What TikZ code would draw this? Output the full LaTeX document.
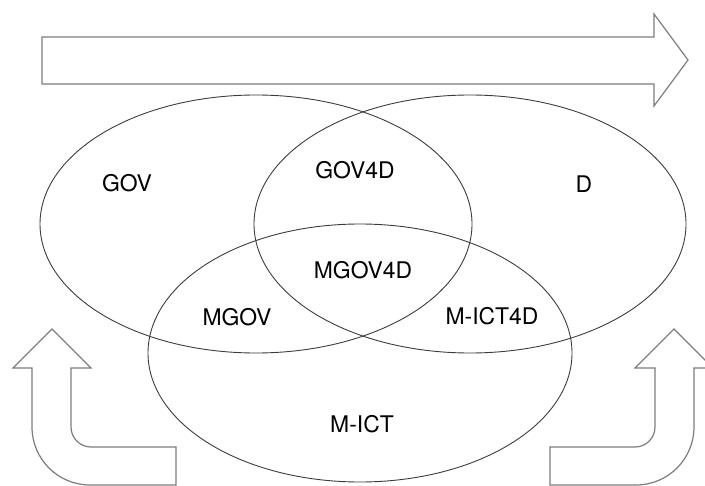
\documentclass[tikz,border=0pt]{standalone}
\usepackage{fontspec}
\setmainfont{TeX Gyre Heros}
\usetikzlibrary{math}
\definecolor{ringgray}{RGB}{60,60,60}
\definecolor{arrowgray}{RGB}{125,125,125}

\begin{document}
\begin{tikzpicture}[x=1bp,y=-1bp,
  ring/.style={color=ringgray,line width=0.9bp},
  bigarrow/.style={color=arrowgray,line width=1.2bp,line join=miter},
  lbl/.style={font=\fontsize{23}{27}\selectfont,inner sep=0pt}]
\tikzmath{
\rx=216;
\ry=129;
}
\useasboundingbox (0,0) rectangle (705,486);

%top arrow
\draw[bigarrow] (42,37) -- (654,37) -- (654,14) -- (688,60) -- (654,106) -- (654,84) -- (42,84) -- cycle;

%ellipses
\draw[ring] (256,224) ellipse [x radius=\rx bp, y radius=\ry bp];
\draw[ring] (470,224) ellipse [x radius=\rx bp, y radius=\ry bp];
\draw[ring] (360,353) ellipse [x radius=212bp, y radius=\ry bp];

%bent arrows
\draw[bigarrow] (52,329) -- (91,368) -- (71,368) -- (71,427)
  arc[start angle=180, end angle=270, radius=20bp] -- (176,447) -- (176,485) -- (90,485)
  arc[start angle=270, end angle=180, radius=58bp] -- (32,368) -- (13,368) -- cycle;
\draw[bigarrow] (674,329) -- (635,368) -- (655,368) -- (655,427)
  arc[start angle=0, end angle=-90, radius=20bp] -- (550,447) -- (550,485) -- (636,485)
  arc[start angle=-90, end angle=0, radius=58bp] -- (694,368) -- (713,368) -- cycle;

%labels
\node[lbl] (gov) at (127,183) {GOV};
\node[lbl] (gov4d) at (355,170) {GOV4D};
\node[lbl] (d) at (584,184) {D};
\node[lbl] (mgov4d) at (363,270) {MGOV4D};
\node[lbl] (mgov) at (237,317) {MGOV};
\node[lbl] (mict4d) at (492,316) {M-ICT4D};
\node[lbl] (mict) at (362,424) {M-ICT};

\end{tikzpicture}
\end{document}
